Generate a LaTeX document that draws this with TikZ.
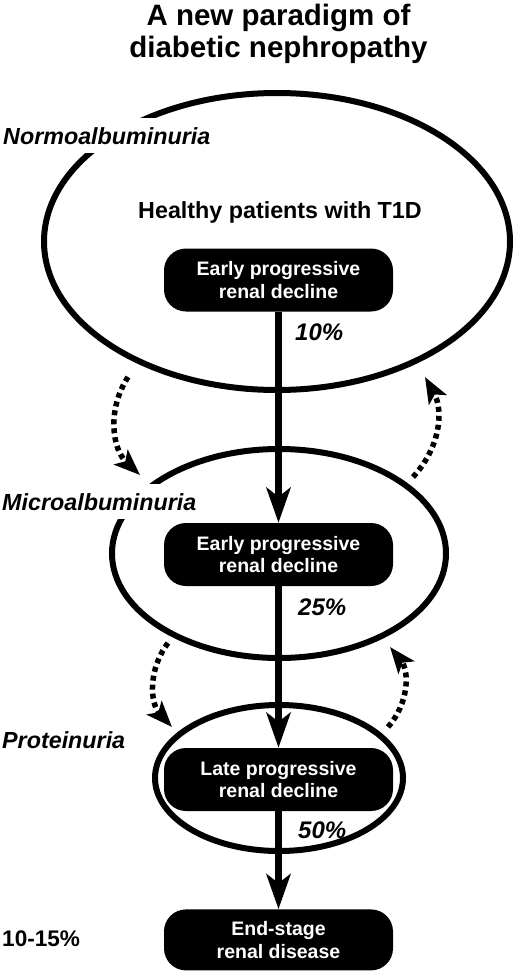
\documentclass[tikz,border=0pt]{standalone}
\usepackage{fontspec}
\setmainfont{Liberation Sans}
\usetikzlibrary{arrows.meta, shapes.geometric, positioning}

\begin{document}
\begin{tikzpicture}[
  x=1pt, y=1pt,
  >={Stealth[length=35pt, width=24pt, inset=9pt]},
  stage/.style={ellipse, draw, line width=6pt, inner sep=0pt},
  stagelab/.style={anchor=base west, inner xsep=2pt, inner ysep=9pt, fill=white,
    font=\fontsize{23.3}{26}\selectfont\bfseries\itshape},
  decline/.style={rectangle, rounded corners=22pt, fill=black, text=white,
    minimum width=229pt, minimum height=63pt, align=center, inner sep=0pt,
    font=\fontsize{19.5}{22.5}\selectfont\bfseries},
  flow/.style={->, line width=7pt},
  swing/.style={-{Stealth[length=26pt, width=20pt, inset=6pt]}, line width=5.5pt,
    dash pattern=on 5pt off 4pt},
  pct/.style={anchor=base west, inner sep=0pt, font=\fontsize{24}{26}\selectfont\bfseries\itshape}
]
\useasboundingbox (0,0) rectangle (520,-972);

\node[anchor=north, align=center, inner sep=0pt,
  font=\fontsize{29.5}{32}\selectfont\bfseries] (title) at (278.5,-4)
  {A new paradigm of\\diabetic nephropathy};

% the three stages
\node[stage, minimum width=466pt, minimum height=297pt] (normo) at (277,-241.5) {};
\node[stage, minimum width=334pt, minimum height=209pt] (micro) at (279,-553.5) {};
\node[stage, minimum width=248pt, minimum height=146pt] (protein) at (279,-778) {};

\node[stagelab] (normolab) at (1,-144) {Normoalbuminuria};
\node[stagelab] (microlab) at (0,-510) {Microalbuminuria};
\node[stagelab] (proteinlab) at (0,-748) {Proteinuria};

\node[anchor=base, font=\fontsize{23.3}{26}\selectfont\bfseries] (healthy) at (280,-218)
  {Healthy patients with T1D};

\node[decline] (early1) at (278.5,-280) {Early progressive\\renal decline};
\node[decline] (early2) at (278.5,-554.5) {Early progressive\\renal decline};
\node[decline] (late) at (278.5,-779.5) {Late progressive\\renal decline};
\node[decline, minimum height=61pt, below=98pt of late] (esrd) {End-stage\\renal disease};

\draw[flow] (early1) -- (early2);
\draw[flow] (early2) -- (late);
\draw[flow] (late) -- (esrd);

\node[pct] (p10) at (295,-340) {10\%};
\node[pct] (p25) at (298,-615) {25\%};
\node[pct] (p50) at (298,-838) {50\%};
\node[anchor=base west, inner sep=0pt, font=\fontsize{22.6}{25}\selectfont\bfseries]
  (p1015) at (2,-946) {10-15\%};

% back and forth between stages
\coordinate (n2m-s) at (128,-377);
\coordinate (n2m-e) at (140,-475);
\coordinate (m2n-s) at (413,-477);
\coordinate (m2n-e) at (425,-377);
\coordinate (m2p-s) at (168,-643);
\coordinate (m2p-e) at (172,-727);
\coordinate (p2m-s) at (388,-727);
\coordinate (p2m-e) at (390,-647);

\draw[swing] (n2m-s) to[bend right=40] (n2m-e);
\draw[swing] (m2n-s) to[bend right=36] (m2n-e);
\draw[swing] (m2p-s) to[bend right=40] (m2p-e);
\draw[swing] (p2m-s) to[bend right=40] (p2m-e);
\end{tikzpicture}
\end{document}
